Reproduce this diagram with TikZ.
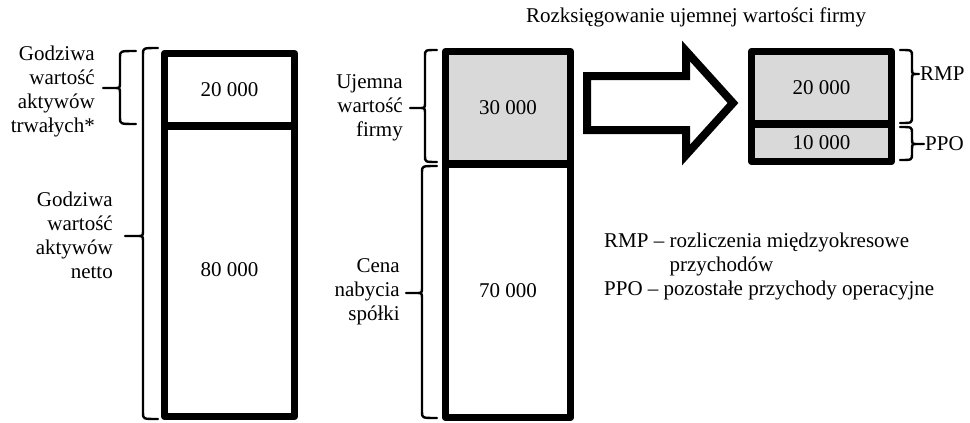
\documentclass[tikz,border=0pt]{standalone}
\usepackage{fontspec}
\setmainfont{Liberation Serif}
\definecolor{boxgray}{RGB}{217,217,217}
\newcommand\drawbrc[7]{% x, top, bottom, tip y, tip length, hook length, dir (1 = tip left, -1 = tip right)
  \draw[brc] ({#1+(#7)*(#6)},#2) .. controls (#1,#2) .. (#1,{#2+6})
    -- (#1,{#4-6}) .. controls (#1,#4) .. ({#1-(#7)*5},#4)
    -- ({#1-(#7)*(#5)},#4) -- ({#1-(#7)*5},#4)
    .. controls (#1,#4) .. (#1,{#4+6})
    -- (#1,{#3-6}) .. controls (#1,#3) .. ({#1+(#7)*(#6)},#3);}
\begin{document}
\begin{tikzpicture}[x=1pt,y=-1pt,
  txt/.style={font=\fontsize{21}{24}\selectfont, inner sep=0pt},
  sect/.style={draw, line width=7.5pt, line join=round, inner sep=0pt,
    font=\fontsize{21}{24}\selectfont},
  graysect/.style={sect, fill=boxgray},
  brc/.style={line width=2.4pt, line cap=round, line join=round},
  bigarrow/.style={line width=8pt, line join=miter}]
\useasboundingbox (0,0) rectangle (970,423);

% left column
\node[sect, minimum width=130pt, minimum height=72.5pt] (a1) at (229.5,89.75) {20 000};
\node[sect, minimum width=130pt, minimum height=290.5pt] (a2) at (229.5,271.25) {\raisebox{3pt}{80 000}};

% middle column
\node[graysect, minimum width=125pt, minimum height=112.5pt] (b1) at (508,107.75) {30 000};
\node[sect, minimum width=125pt, minimum height=253.5pt] (b2) at (508,290.75) {\raisebox{-3pt}{70 000}};

% right column
\node[graysect, minimum width=140pt, minimum height=72.5pt] (c1) at (821.5,87.75) {\raisebox{-3pt}{20 000}};
\node[graysect, minimum width=140pt, minimum height=37.5pt] (c2) at (821.5,142.75) {10 000};

% block arrow
\coordinate (p1) at (587,76);
\coordinate (p2) at (686,76);
\coordinate (p3) at (686,51);
\coordinate (p4) at (733,103);
\coordinate (p5) at (686,155);
\coordinate (p6) at (686,130);
\coordinate (p7) at (587,130);
\draw[bigarrow] (p1) -- (p2) -- (p3) -- (p4) -- (p5) -- (p6) -- (p7) -- cycle;

% braces
\drawbrc{120}{51}{124}{88}{17}{16}{1}
\drawbrc{143}{48}{419}{236}{18}{15}{1}
\drawbrc{425}{50}{162}{108}{15}{12}{1}
\drawbrc{422}{166}{418}{293}{16}{15}{1}
\drawbrc{912}{50}{123}{74}{7}{12}{-1}
\drawbrc{912}{127}{160}{144}{12}{12}{-1}

% labels
\node[txt, align=right, anchor=east] (t1) at (95,91.5) {Godziwa\\wartość\\aktywów\\trwałych*};
\node[txt, align=right, anchor=east] (t2) at (113,235.5) {Godziwa\\wartość\\aktywów\\netto};
\node[txt, align=right, anchor=east] (t3) at (403,107.7) {Ujemna\\wartość\\firmy};
\node[txt, align=right, anchor=east] (t4) at (400,292) {Cena\\nabycia\\spółki};
\node[txt] (title) at (696,17) {Rozksięgowanie ujemnej wartości firmy};
\node[txt, anchor=west] (rmp) at (920,74) {RMP};
\node[txt, anchor=west] (ppo) at (925,144) {PPO};
\node[txt, align=left, anchor=west] (legend) at (604,266.5) {RMP – rozliczenia międzyokresowe\\\phantom{RMP – }przychodów\\PPO – pozostałe przychody operacyjne};
\end{tikzpicture}
\end{document}
